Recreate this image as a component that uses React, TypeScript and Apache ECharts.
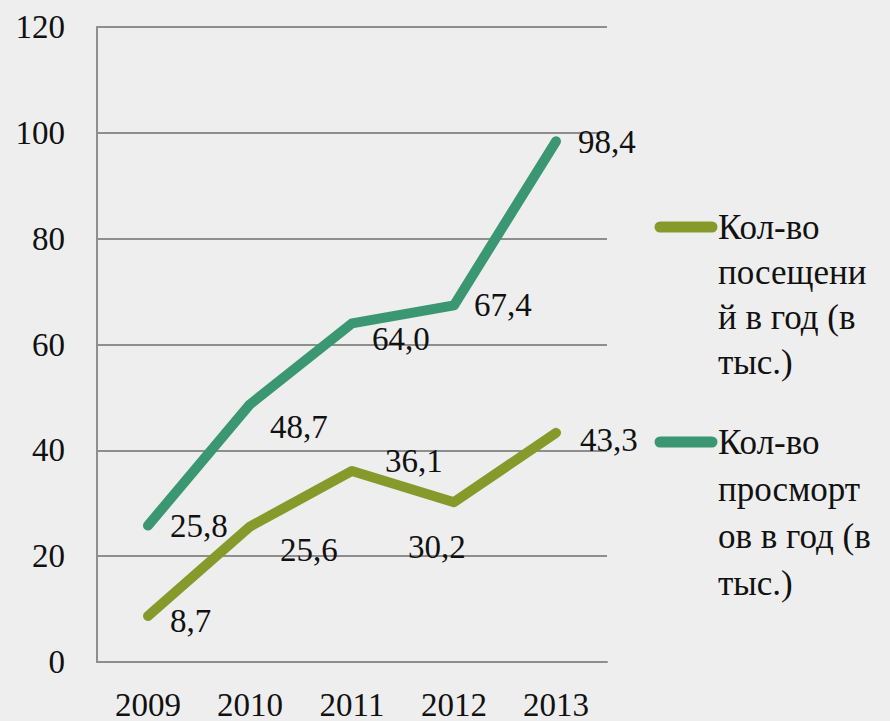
import React, { useEffect, useRef } from "react";
import * as echarts from "echarts";

const years = ["2009", "2010", "2011", "2012", "2013"];
const visits = [8.7, 25.6, 36.1, 30.2, 43.3];
const views = [25.8, 48.7, 64.0, 67.4, 98.4];
const seriesNames = ["Кол-во посещений в год (в тыс.)", "Кол-во просмортов в год (в тыс.)"];
const legendTexts = ["Кол-во\nпосещени\nй в год (в\nтыс.)", "Кол-во\nпросморт\nов в год (в\nтыс.)"];

const visitsLabelOffsets: [number, number][] = [[21, 5], [29, 23], [32, -10], [-47, 45], [23, 7]];
const viewsLabelOffsets: [number, number][] = [[21, 1], [19, 23], [19, 16], [19, 0], [21, 1]];

const FONT = "Liberation Serif, serif";
const C1 = "#869a2b";
const C2 = "#3b9672";

export default function App() {
  const ref = useRef<HTMLDivElement>(null);
  useEffect(() => {
    document.body.style.margin = "0";
    const chart = echarts.init(ref.current!, null, { renderer: "svg" });
    const fmt = (p: any) => Number(p.value).toFixed(1).replace(".", ",");
    const mk = (name: string, vals: number[], offs: [number, number][], color: string) => ({
      name,
      type: "line",
      symbol: "circle",
      symbolSize: 2,
      showSymbol: true,
      itemStyle: { color: "transparent", borderWidth: 0 },
      lineStyle: { color, width: 10, cap: "round", join: "round" },
      label: {
        show: true,
        position: "right",
        distance: 0,
        color: "#111",
        fontFamily: FONT,
        fontSize: 33,
        formatter: fmt,
      },
      data: vals.map((v, i) => ({ value: v, label: { offset: offs[i] } })),
    });
    chart.setOption({
      animation: false,
      backgroundColor: "#eeeeee",
      textStyle: { fontFamily: FONT },
      grid: { left: 97, right: 283, top: 27, bottom: 58 },
      xAxis: {
        type: "category",
        data: years,
        boundaryGap: true,
        axisLine: { lineStyle: { color: "#8e8e8e", width: 2 } },
        axisTick: { show: false },
        axisLabel: { fontFamily: FONT, fontSize: 33, color: "#111", margin: 26 },
      },
      yAxis: {
        type: "value",
        min: 0,
        max: 120,
        interval: 20,
        axisLine: { show: true, lineStyle: { color: "#8e8e8e", width: 2 } },
        axisTick: { show: false },
        splitLine: { lineStyle: { color: "#8e8e8e", width: 2 } },
        axisLabel: { fontFamily: FONT, fontSize: 33, color: "#111", margin: 32 },
      },
      series: [mk(seriesNames[0], visits, visitsLabelOffsets, C1), mk(seriesNames[1], views, viewsLabelOffsets, C2)],
      graphic: [
        { type: "line", shape: { x1: 660, y1: 227, x2: 712, y2: 227 }, style: { stroke: C1, lineWidth: 11, lineCap: "round" } },
        { type: "text", x: 718, y: 205, style: { text: legendTexts[0], fontFamily: FONT, fontSize: 35, fill: "#111", lineHeight: 45, verticalAlign: "top" } },
        { type: "line", shape: { x1: 660, y1: 442, x2: 712, y2: 442 }, style: { stroke: C2, lineWidth: 11, lineCap: "round" } },
        { type: "text", x: 718, y: 419, style: { text: legendTexts[1], fontFamily: FONT, fontSize: 35, fill: "#111", lineHeight: 47, verticalAlign: "top" } },
      ],
    });
    return () => chart.dispose();
  }, []);
  return <div ref={ref} style={{ width: 890, height: 721 }} />;
}
